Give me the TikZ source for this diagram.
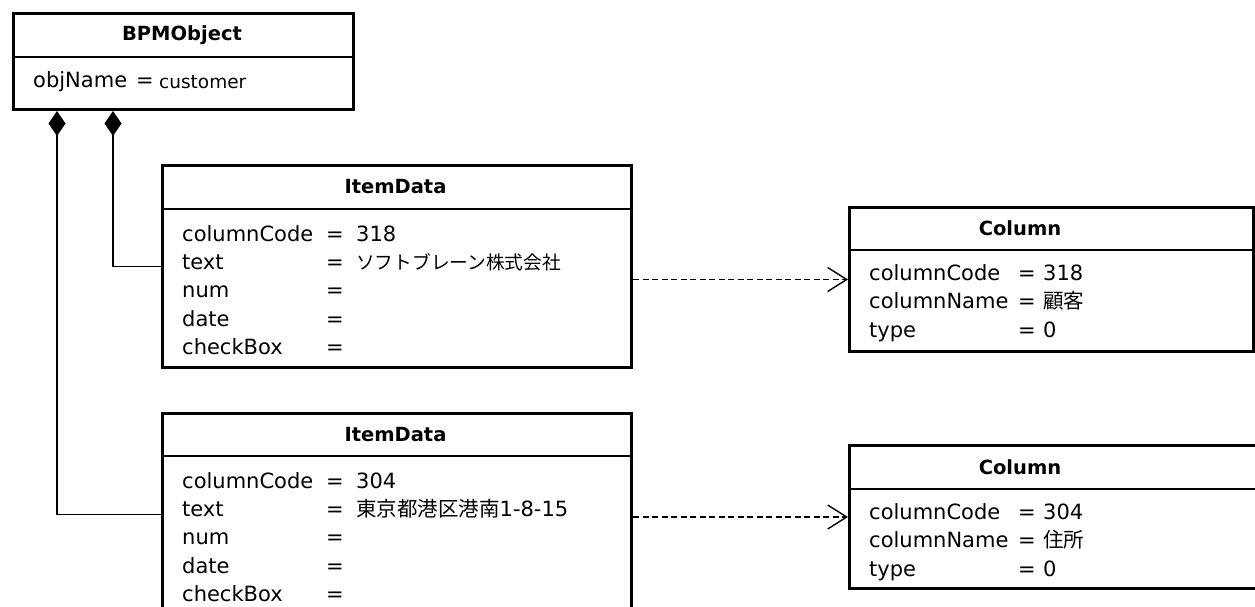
\documentclass[tikz,border=0pt]{standalone}
\usepackage{fontspec}
\setmainfont{DejaVu Sans}
\newfontfamily\jp{Noto Sans CJK JP}
\usetikzlibrary{arrows.meta}

\tikzset{
  umlbox/.style={draw, line width=3pt, fill=white, inner sep=0pt, anchor=north west},
  divider/.style={line width=1.3pt},
  umltitle/.style={font=\fontsize{19.5}{22}\selectfont\bfseries, inner sep=0pt, anchor=center},
  attr/.style={font=\fontsize{21}{24}\selectfont, inner sep=0pt, anchor=base west},
  jpval/.style={attr, font=\fontsize{20.5}{24}\selectfont\jp},
  comp/.style={line width=1.5pt, {Diamond[length=25pt,width=17pt]}-},
  dep/.style={line width=1.5pt, dash pattern=on 6pt off 3.5pt,
              -{Straight Barb[length=19pt,width=24pt,line width=1.4pt]}},
}

\begin{document}
\begin{tikzpicture}[x=1pt,y=-1pt]
  \useasboundingbox (0,0) rectangle (1255,607);
  \clip (0,0) rectangle (1255,607);
  \fill[white] (0,0) rectangle (1255,607);

  % ---- BPMObject ----
  \node[umlbox, minimum width=340pt, minimum height=96pt] (bpm) at (12,12) {};
  \draw[divider] (12,57) -- (352,57);
  \node[umltitle] (bpmT) at (182,35) {BPMObject};
  \node[attr] (bpmK) at (33,88) {objName};
  \node[attr] (bpmE) at (136,88) {=};
  \node[attr, font=\fontsize{18.5}{22}\selectfont] (bpmV) at (159,89) {customer};

  % ---- ItemData (318) ----
  \node[umlbox, minimum width=469pt, minimum height=202pt] (item1) at (161,164) {};
  \draw[divider] (161,209) -- (630,209);
  \node[umltitle] (item1T) at (395.5,187) {ItemData};
  \node[attr] (i1k1) at (182,241)   {columnCode};
  \node[attr] (i1k2) at (182,269.5) {text};
  \node[attr] (i1k3) at (182,297.8) {num};
  \node[attr] (i1k4) at (182,326)   {date};
  \node[attr] (i1k5) at (182,354.5) {checkBox};
  \node[attr] (i1e1) at (326,241)   {=};
  \node[attr] (i1e2) at (326,269.5) {=};
  \node[attr] (i1e3) at (326,297.8) {=};
  \node[attr] (i1e4) at (326,326)   {=};
  \node[attr] (i1e5) at (326,354.5) {=};
  \node[attr] (i1v1) at (356,241)   {318};
  \node[jpval, font=\fontsize{18.7}{22}\selectfont\jp] (i1v2) at (356,269.5) {ソフトブレーン株式会社};

  % ---- ItemData (304) ----
  \node[umlbox, minimum width=469pt, minimum height=202pt] (item2) at (161,412) {};
  \draw[divider] (161,456) -- (630,456);
  \node[umltitle] (item2T) at (395.5,435) {ItemData};
  \node[attr] (i2k1) at (182,488)   {columnCode};
  \node[attr] (i2k2) at (182,516.5) {text};
  \node[attr] (i2k3) at (182,544.8) {num};
  \node[attr] (i2k4) at (182,573)   {date};
  \node[attr] (i2k5) at (182,601.5) {checkBox};
  \node[attr] (i2e1) at (326,488)   {=};
  \node[attr] (i2e2) at (326,516.5) {=};
  \node[attr] (i2e3) at (326,544.8) {=};
  \node[attr] (i2e4) at (326,573)   {=};
  \node[attr] (i2e5) at (326,601.5) {=};
  \node[attr] (i2v1) at (356,488)   {304};
  \node[attr] (i2v2) at (356,516.5) {{\jp\fontsize{20.5}{24}\selectfont 東京都港区港南}1-8-15};

  % ---- Column (318) ----
  \node[umlbox, minimum width=404pt, minimum height=144pt] (col1) at (848,206) {};
  \draw[divider] (848,250) -- (1252,250);
  \node[umltitle] (col1T) at (1020,228) {Column};
  \node[attr] (c1k1) at (869,280)   {columnCode};
  \node[attr] (c1k2) at (869,308.5) {columnName};
  \node[attr] (c1k3) at (869,337)   {type};
  \node[attr] (c1e1) at (1018,280)   {=};
  \node[attr] (c1e2) at (1018,308.5) {=};
  \node[attr] (c1e3) at (1018,337)   {=};
  \node[attr] (c1v1) at (1043,280)   {318};
  \node[jpval] (c1v2) at (1043,308.5) {顧客};
  \node[attr] (c1v3) at (1043,337)   {0};

  % ---- Column (304) ----
  \node[umlbox, minimum width=414pt, minimum height=143pt] (col2) at (848,444) {};
  \draw[divider] (848,489) -- (1262,489);
  \node[umltitle] (col2T) at (1020,467) {Column};
  \node[attr] (c2k1) at (869,519)   {columnCode};
  \node[attr] (c2k2) at (869,547.5) {columnName};
  \node[attr] (c2k3) at (869,576)   {type};
  \node[attr] (c2e1) at (1018,519)   {=};
  \node[attr] (c2e2) at (1018,547.5) {=};
  \node[attr] (c2e3) at (1018,576)   {=};
  \node[attr] (c2v1) at (1043,519)   {304};
  \node[jpval] (c2v2) at (1043,547.5) {住所};
  \node[attr] (c2v3) at (1043,576)   {0};

  % ---- compositions ----
  \draw[comp] ([xshift=45pt]bpm.south west) |- (item2.west);
  \draw[comp] ([xshift=101pt]bpm.south west) |- (item1.west);

  % ---- dependencies ----
  \draw[dep] (item1.east |- col1.west) -- (col1.west);
  \draw[dep] (item2.east |- col2.west) -- (col2.west);
\end{tikzpicture}
\end{document}
